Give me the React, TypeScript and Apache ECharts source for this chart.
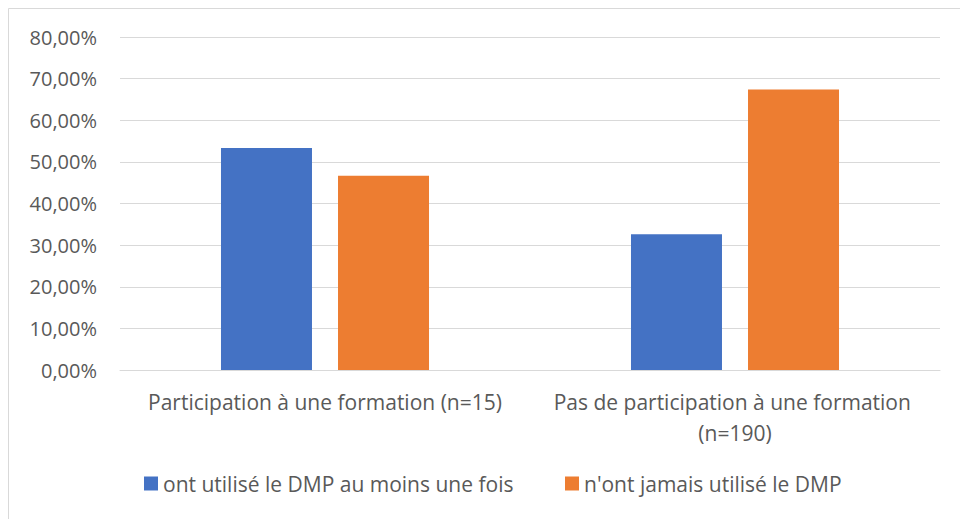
import React, { useEffect, useRef } from "react";
import * as echarts from "echarts";

const categories = [
  "Participation à une formation (n=15)",
  "Pas de participation à une formation (n=190)",
];
const seriesNames = [
  "ont utilisé le DMP au moins une fois",
  "n'ont jamais utilisé le DMP",
];
const usedValues = [0.5333, 0.3263];
const neverValues = [0.4667, 0.6737];
const colors = ["#4472C4", "#ED7D31"];

const FONT = "Open Sans";
const TEXT = "#595959";

export default function App() {
  const ref = useRef<HTMLDivElement>(null);
  useEffect(() => {
    if (!ref.current) return;
    const chart = echarts.init(ref.current, undefined, { renderer: "svg" });
    const legendText = { color: TEXT, fontSize: 21, fontFamily: FONT, lineHeight: 21 };
    chart.setOption({
      animation: false,
      backgroundColor: "#ffffff",
      textStyle: { fontFamily: FONT },
      graphic: [
        {
          type: "rect",
          shape: { x: 8.5, y: 8.5, width: 1000, height: 600 },
          style: { fill: "none", stroke: "#d9d9d9", lineWidth: 1 },
          silent: true,
        },
      ],
      grid: { left: 120, right: 20, top: 37, bottom: 149, containLabel: false },
      legend: [
        {
          data: [seriesNames[0]],
          left: 144,
          top: 473,
          padding: 0,
          itemWidth: 14,
          itemHeight: 14,
          icon: "rect",
          textStyle: legendText,
        },
        {
          data: [seriesNames[1]],
          left: 565,
          top: 473,
          padding: 0,
          itemWidth: 14,
          itemHeight: 14,
          icon: "rect",
          textStyle: legendText,
        },
      ],
      xAxis: {
        type: "category",
        data: categories,
        axisLine: { show: true, lineStyle: { color: "#d9d9d9", width: 1 } },
        axisTick: { show: false },
        axisLabel: {
          color: TEXT,
          fontSize: 21,
          fontFamily: FONT,
          margin: 16,
          lineHeight: 31,
          width: 380,
          overflow: "break",
          interval: 0,
        },
      },
      yAxis: {
        type: "value",
        min: 0,
        max: 0.8,
        interval: 0.1,
        axisLine: { show: false },
        axisTick: { show: false },
        splitLine: { lineStyle: { color: "#d9d9d9", width: 1 } },
        axisLabel: {
          color: TEXT,
          fontSize: 20,
          fontFamily: FONT,
          margin: 23,
          formatter: (v: number) => (v * 100).toFixed(2).replace(".", ",") + "%",
        },
      },
      series: [
        {
          name: seriesNames[0],
          type: "bar",
          data: usedValues,
          barWidth: 91,
          barGap: "28.6%",
          itemStyle: { color: colors[0] },
        },
        {
          name: seriesNames[1],
          type: "bar",
          data: neverValues,
          barWidth: 91,
          itemStyle: { color: colors[1] },
        },
      ],
    });
    return () => chart.dispose();
  }, []);
  return (
    <div
      ref={ref}
      style={{ position: "fixed", left: 0, top: 0, width: 960, height: 519 }}
    />
  );
}
